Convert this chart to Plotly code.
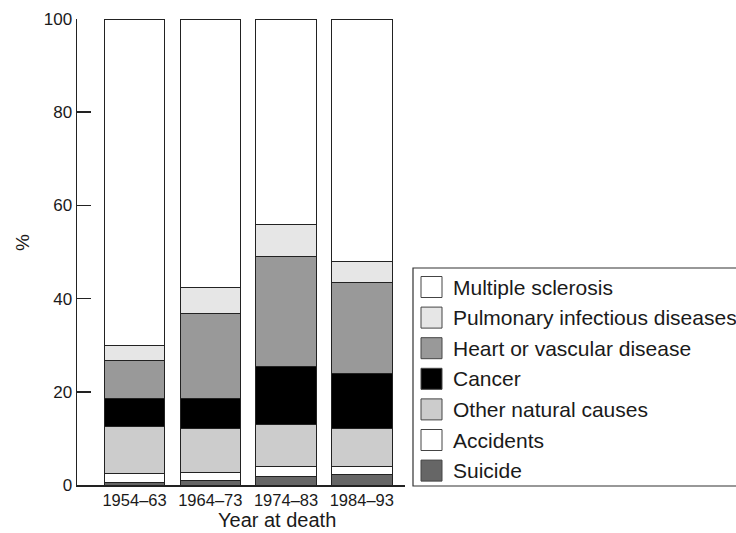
import plotly.graph_objects as go

# ---- data ----
periods = ["1954–63", "1964–73", "1974–83", "1984–93"]
suicide = [0.6, 1.0, 1.9, 2.3]
accidents = [1.8, 1.7, 2.1, 1.6]
other_natural = [10.2, 9.4, 9.0, 8.3]
cancer = [6.0, 6.5, 12.5, 11.7]
heart_vascular = [8.1, 18.2, 23.5, 19.6]
pulmonary = [3.3, 5.5, 7.0, 4.4]
multiple_sclerosis = [70.0, 57.7, 44.0, 52.1]

series_names = ["Suicide", "Accidents", "Other natural causes", "Cancer",
                "Heart or vascular disease", "Pulmonary infectious diseases",
                "Multiple sclerosis"]
series_values = [suicide, accidents, other_natural, cancer,
                 heart_vascular, pulmonary, multiple_sclerosis]
series_colors = ["#666666", "#ffffff", "#cccccc", "#000000",
                 "#999999", "#e6e6e6", "#ffffff"]

FONT = "Liberation Sans, Arial, Helvetica, sans-serif"
W, H = 736, 533
L, R, T, B = 77, 405, 19, 485  # plot area in pixels


def px_x(p):
    return (p - L) / (R - L)


def px_y(p):
    return (B - p) / (B - T)


fig = go.Figure()
for name, vals, col in zip(series_names, series_values, series_colors):
    fig.add_trace(go.Bar(
        x=periods, y=vals, name=name,
        marker=dict(color=col, line=dict(color="#222222", width=1)),
        showlegend=False,
    ))

# ---- manual legend (large swatches, box clipped at right like reference) ----
shapes = []
annotations = []
shapes.append(dict(type="rect", xref="paper", yref="paper",
                   x0=px_x(413), x1=px_x(760), y0=px_y(486), y1=px_y(268),
                   line=dict(color="#333333", width=1.2), fillcolor="rgba(0,0,0,0)"))
legend_order = list(reversed(range(len(series_names))))
item_y0, item_dy = 287, 30.6
for i, idx in enumerate(legend_order):
    cy = item_y0 + i * item_dy
    shapes.append(dict(type="rect", xref="paper", yref="paper",
                       x0=px_x(421), x1=px_x(442),
                       y0=px_y(cy + 10.5), y1=px_y(cy - 10.5),
                       line=dict(color="#444444", width=1),
                       fillcolor=series_colors[idx]))
    annotations.append(dict(xref="paper", yref="paper", x=px_x(451), y=px_y(cy),
                            text=series_names[idx], showarrow=False,
                            xanchor="left", yanchor="middle",
                            font=dict(family=FONT, size=21, color="#1a1a1a")))

# axis titles
annotations.append(dict(xref="paper", yref="paper", x=px_x(277), y=px_y(520),
                        text="Year at death", showarrow=False,
                        xanchor="center", yanchor="middle",
                        font=dict(family=FONT, size=20, color="#1a1a1a")))
annotations.append(dict(xref="paper", yref="paper", x=px_x(22), y=px_y(243),
                        text="%", showarrow=False, textangle=-90,
                        xanchor="center", yanchor="middle",
                        font=dict(family=FONT, size=19, color="#1a1a1a")))

fig.update_layout(
    template="none",
    width=W, height=H,
    margin=dict(l=L, r=W - R, t=T, b=H - B, pad=0, autoexpand=False),
    barmode="stack", bargap=0.2,
    paper_bgcolor="white", plot_bgcolor="white",
    font=dict(family=FONT, size=16, color="#1a1a1a"),
    shapes=shapes, annotations=annotations,
    showlegend=False,
)
fig.update_xaxes(range=[-0.76, 3.57], showline=True, linecolor="#222222",
                 linewidth=1.5, ticks="", showgrid=False, zeroline=False,
                 tickfont=dict(size=16.5), automargin=False, fixedrange=True)
fig.update_yaxes(range=[0, 100], tickvals=[0, 20, 40, 60, 80, 100],
                 showline=True, linecolor="#222222", linewidth=1.5,
                 ticks="inside", ticklen=14, tickwidth=1.5, tickcolor="#222222",
                 showgrid=False, zeroline=False, tickfont=dict(size=17),
                 automargin=False, fixedrange=True)

fig.write_html(
    "out.html",
    config={"displayModeBar": False, "staticPlot": True},
    post_script="document.body.style.margin='0';document.body.style.overflow='hidden';",
)
